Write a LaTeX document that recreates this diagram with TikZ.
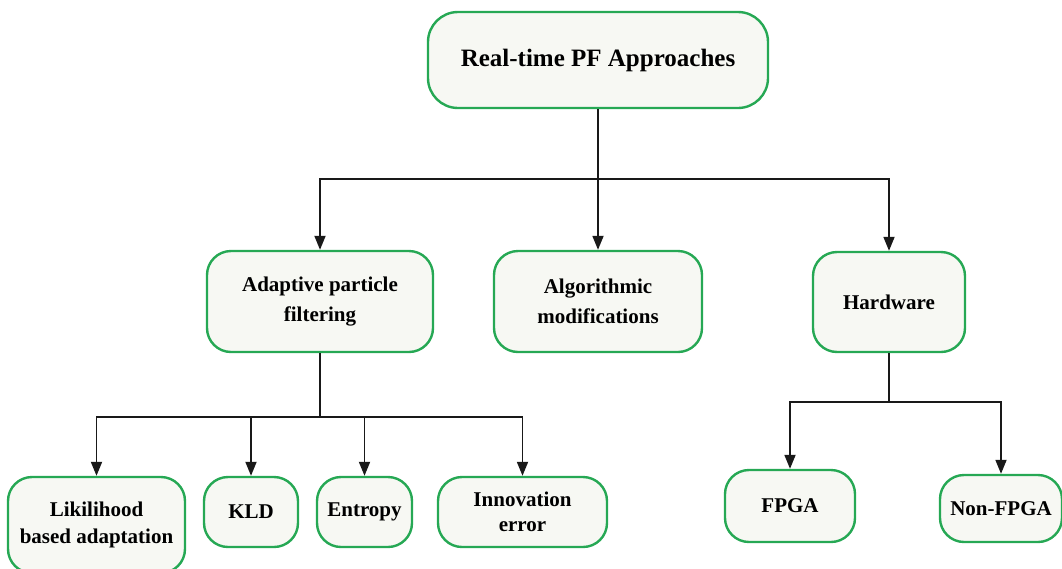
\documentclass[tikz,border=0pt]{standalone}
\usepackage{fontspec}
\setmainfont{Liberation Serif}
\usepackage{tikz}
\usetikzlibrary{arrows.meta,positioning}
\usepackage{xcolor}
\definecolor{pfgreen}{RGB}{38,168,84}
\definecolor{pflightgreen}{RGB}{247,248,243}
\tikzstyle{approach} = [rectangle, rounded corners=24pt, align=center, inner sep=0pt, draw=pfgreen, fill=pflightgreen, line width=2.4pt, font=\bfseries\fontsize{21}{27}\selectfont]
\tikzstyle{arrow} = [line width=1.8pt, -{Triangle[length=14pt,width=11pt]}, color=black!90]

\begin{document}
\begin{tikzpicture}[x=1pt,y=-1pt]
\useasboundingbox (0,0) rectangle (1062,568);
\node[approach, minimum width=340pt, minimum height=96pt, rounded corners=30pt, font=\bfseries\fontsize{25}{30}\selectfont] (root) at (598,60) {Real-time PF Approaches};
\node[approach, minimum width=226pt, minimum height=101pt, font=\bfseries\fontsize{21}{30}\selectfont] (adapt) at (320,301.5) {Adaptive particle\\filtering};
\node[approach, minimum width=208pt, minimum height=101pt, font=\bfseries\fontsize{21}{30}\selectfont] (algo) at (598,301.5) {Algorithmic\\modifications};
\node[approach, minimum width=152pt, minimum height=100pt] (hw) at (889,302) {Hardware};

\node[approach, minimum width=177pt, minimum height=96pt] (lik) at (96.5,525) {Likilihood\\based adaptation};
\node[approach, minimum width=94pt, minimum height=70pt] (kld) at (251,512) {KLD};
\node[approach, minimum width=95pt, minimum height=70pt] (ent) at (364.5,512) {Entropy};
\node[approach, minimum width=169pt, minimum height=70pt, font=\bfseries\fontsize{21}{25}\selectfont] (inn) at (522.5,512) {Innovation\\error};
\node[approach, minimum width=130pt, minimum height=72pt] (fpga) at (790,506) {FPGA};
\node[approach, minimum width=122pt, minimum height=67pt] (nfpga) at (1001,508.5) {Non-FPGA};

\draw[arrow] (root.south) -- ++(0,70) -| (adapt.north);
\draw[arrow] (root.south) -- (algo.north);
\draw[arrow] (root.south) -- ++(0,70) -| (hw.north);

\foreach \leaf in {lik,kld,ent,inn}
  \draw[arrow] (adapt.south) -- ++(0,64) -| (\leaf.north);

\draw[arrow] (hw.south) -- ++(0,49) -| (fpga.north);
\draw[arrow] (hw.south) -- ++(0,49) -| (nfpga.north);
\end{tikzpicture}
\end{document}
